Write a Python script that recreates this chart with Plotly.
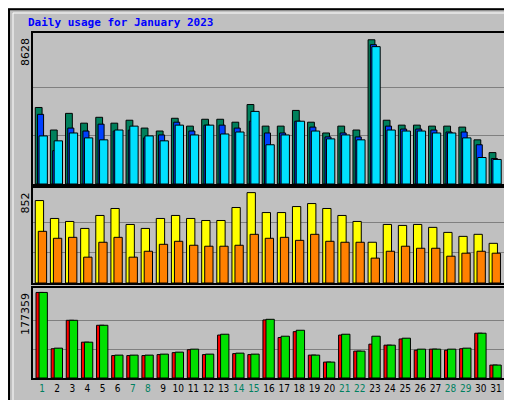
import plotly.graph_objects as go
from plotly.subplots import make_subplots

days = list(range(1, 32))
weekend = [1, 7, 8, 14, 15, 21, 22, 28, 29]

hits = [4547, 3207, 4198, 3615, 3964, 3615, 3790, 3323, 3148, 3906, 3440, 3848, 3848, 3673, 4722, 3440,
        3440, 4373, 3673, 3032, 3440, 3207, 8570, 3790, 3498, 3498, 3440, 3440, 3381, 2624, 1866]
files = [4139, 1982, 3323, 3148, 3556, 3148, 3207, 2740, 2915, 3673, 3148, 3498, 3498, 3323, 3731, 3032,
         3032, 3731, 3381, 2798, 3032, 2798, 8279, 3440, 3265, 3265, 3207, 3090, 3090, 2332, 1516]
pages = [2857, 2565, 3032, 2740, 2624, 3207, 3440, 2857, 2565, 3498, 2915, 3498, 2973, 3090, 4314, 2332,
         2915, 3731, 3148, 2682, 2915, 2624, 8162, 3207, 3148, 3148, 3032, 3032, 2740, 1574, 1458]
visits = [769, 602, 574, 509, 630, 695, 546, 509, 602, 630, 602, 583, 583, 704, 843, 657,
          657, 713, 741, 695, 630, 574, 380, 546, 537, 546, 519, 472, 435, 454, 370]
sites = [482, 417, 426, 241, 380, 426, 241, 296, 361, 389, 352, 343, 343, 352, 454, 417,
         426, 398, 454, 389, 380, 380, 232, 296, 343, 324, 324, 250, 278, 296, 278]
kb_in = [175354, 61170, 118262, 73404, 108067, 46897, 46897, 46897, 48936, 53014, 59131, 48936, 89716,
         50975, 48936, 120301, 85638, 97872, 46897, 32624, 89716, 55053, 85638, 67287, 81560, 59131,
         59131, 59131, 61170, 91755, 26507]
kb_f = [175354, 60000, 118262, 73404, 108067, 46000, 46000, 46000, 48000, 52000, 58000, 48000, 88000,
        50000, 48000, 119000, 83000, 95000, 46897, 32624, 88000, 55053, 69326, 67287, 80000, 57000,
        59131, 57000, 60000, 91755, 26507]

max_top, max_mid, max_bot = 8628, 852, 177359

fig = make_subplots(rows=3, cols=1, vertical_spacing=0.0)
line = dict(color='black', width=1)

def add(y, color, off, w, row):
    fig.add_trace(go.Bar(x=days, y=y, marker=dict(color=color, line=line), offset=off, width=w), row=row, col=1)

add(hits, '#00805c', -0.45, 0.45, 1)
add(files, '#0040ff', -0.3, 0.4, 1)
add(pages, '#00e0ff', -0.2, 0.55, 1)
add(visits, '#ffff00', -0.45, 0.55, 2)
add(sites, '#ff8000', -0.25, 0.55, 2)
add(kb_f, '#ff0000', -0.4, 0.5, 3)
add(kb_in, '#00e000', -0.2, 0.55, 3)

doms = [[0.56, 0.9375], [0.3125, 0.55], [0.075, 0.3]]
maxes = [max_top, max_mid, max_bot]
ticktext = [f"<span style='color:#008060'>{d}</span>" if d in weekend else str(d) for d in days]
for i in range(3):
    fig.update_yaxes(row=i + 1, col=1, domain=doms[i], range=[0, maxes[i] * 1.04],
                     tickvals=[maxes[i] / 3, maxes[i] * 2 / 3], showticklabels=False,
                     gridcolor='#808080', showline=True, mirror=True, linecolor='black', linewidth=2,
                     zeroline=False)
    fig.update_xaxes(row=i + 1, col=1, domain=[25 / 512, 497 / 512], range=[0.4, 31.6],
                     showgrid=False, showline=True, mirror=True, linecolor='black', linewidth=2,
                     tickvals=days, ticktext=ticktext, showticklabels=(i == 2), ticks='',
                     tickangle=0, tickfont=dict(size=10, family='DejaVu Sans Condensed'))

ann = []
ypix = [28, 183, 283]
for i in range(3):
    ann.append(dict(text=str(maxes[i]), x=17 / 512, y=1 - ypix[i] / 400, xref='paper', yref='paper',
                    textangle=-90, xanchor='center', yanchor='top', showarrow=False,
                    font=dict(size=11, color='black')))
ann.append(dict(text='<b>Daily usage for January 2023</b>', x=18 / 512, y=1 - 15 / 400, xref='paper',
                yref='paper', xanchor='left', yanchor='middle', showarrow=False,
                font=dict(size=11, color='#0000ff', family='DejaVu Sans Mono')))
side = [
    ("<span style='color:#00e0ff'>Pages</span> / <span style='color:#0040ff'>Files</span> / "
     "<span style='color:#00805c'>Hits</span>", 100),
    ("<span style='color:#ff8000'>Sites</span> / <span style='color:#e0c000'>Visits</span>", 227),
    ("<span style='color:#ff0000'>kB F</span> / <span style='color:#0080ff'>kB In</span> / "
     "<span style='color:#00c000'>kB Out</span>", 325),
]
for txt, yp in side:
    ann.append(dict(text=txt, x=503 / 512, y=1 - yp / 400, xref='paper', yref='paper', textangle=90,
                    xanchor='center', yanchor='middle', showarrow=False,
                    font=dict(size=10, family='DejaVu Sans Mono')))

shapes = [
    dict(type='rect', xref='paper', yref='paper', x0=0.002, y0=0.003, x1=0.998, y1=0.997,
         line=dict(color='black', width=2)),
    dict(type='rect', xref='paper', yref='paper', x0=5 / 512, y0=5 / 400, x1=507 / 512, y1=395 / 400,
         line=dict(color='white', width=1)),
]

fig.update_layout(width=512, height=400, margin=dict(l=0, r=0, t=0, b=0), showlegend=False,
                  paper_bgcolor='#c0c0c0', plot_bgcolor='#c0c0c0', barmode='overlay',
                  font=dict(family='DejaVu Sans', size=11, color='black'),
                  annotations=ann, shapes=shapes)
fig.write_html("out.html")
